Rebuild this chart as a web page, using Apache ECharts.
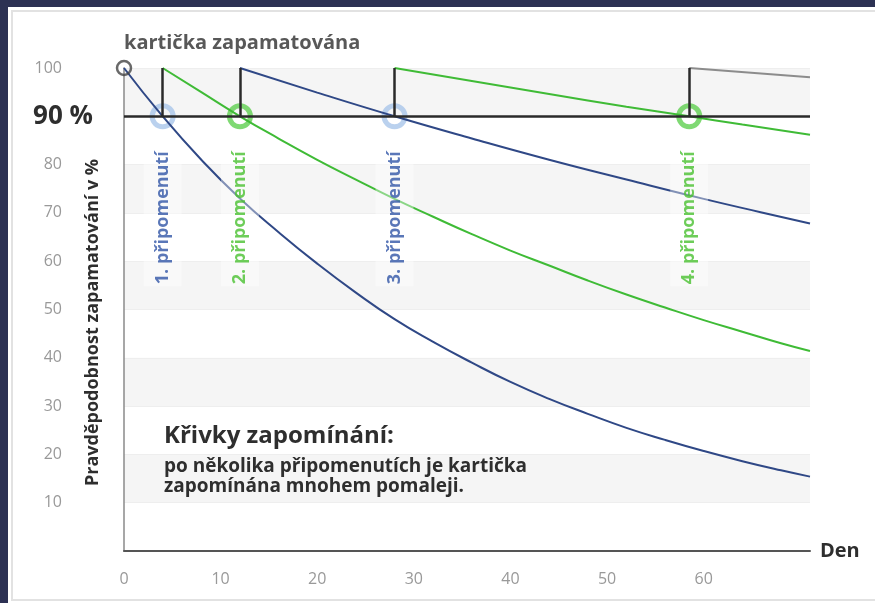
<!DOCTYPE html>
<html>
<head>
<meta charset="utf-8">
<script src="https://cdn.jsdelivr.net/npm/echarts@6/dist/echarts.min.js"></script>
<style>
  html, body { margin: 0; padding: 0; background: #ffffff; }
  #chart { width: 875px; height: 603px; }
</style>
</head>
<body>
<div id="chart"></div>
<script>
// values: [den, %]
const curve1 = [[0, 100], [4, 90], [8, 81], [12, 73], [16, 66], [20, 59.5], [24, 53.5], [28, 48], [32, 43.3], [36, 39], [40, 35], [44, 31.5], [48, 28.4], [52, 25.5], [56, 23], [60, 20.7], [64, 18.6], [68, 16.7], [71, 15.4]];
const curve2 = [[4, 100], [8, 95], [12, 90], [16, 85.4], [20, 81], [24, 76.9], [28, 72.9], [32, 69.2], [36, 65.6], [40, 62.2], [44, 59.1], [48, 56], [52, 53.1], [56, 50.4], [60, 47.8], [64, 45.4], [68, 43], [71, 41.4]];
const curve3 = [[12, 100], [20, 94.9], [28, 90], [36, 85.4], [44, 81], [52, 76.9], [60, 72.9], [66, 70.1], [71, 67.8]];
const curve4 = [[28, 100], [36, 97.3], [44, 94.6], [52, 92], [58.5, 90], [64, 88.3], [71, 86.2]];
const curve5 = [[58.5, 100], [71, 98.1]];

const startDay = 0;
const reminderDays = [4, 12, 28, 58.5];
const reminderNames = ['1. připomenutí', '2. připomenutí', '3. připomenutí', '4. připomenutí'];
const threshold = 90;
const full = 100;
const labelLevel = 69;
const xTicks = [0, 10, 20, 30, 40, 50, 60];
const yTicks = [10, 20, 30, 40, 50, 60, 70, 80, 100];

const blue = '#2f4886';
const green = '#3fbb36';
const ringColors = ['#a9c5ea', '#5fd050', '#a9c5ea', '#5fd050'];
const labelColors = ['#3155a6', '#48c02f', '#3155a6', '#48c02f'];
const font = '"Open Sans", "DejaVu Sans", sans-serif';

const chart = echarts.init(document.getElementById('chart'));

function curve(data, color) {
  return {
    type: 'line',
    data: data,
    smooth: true,
    symbol: 'none',
    z: 4,
    lineStyle: { color: color, width: 2 }
  };
}

chart.setOption({
  backgroundColor: '#ffffff',
  animation: false,
  textStyle: { fontFamily: font },
  grid: { left: 124, right: 65, top: 68, bottom: 52 },
  graphic: [
    { type: 'rect', shape: { x: 0, y: 0, width: 875, height: 7 }, style: { fill: '#2c3153' }, z: 100 },
    { type: 'rect', shape: { x: 0, y: 0, width: 8, height: 603 }, style: { fill: '#2c3153' }, z: 100 },
    { type: 'rect', shape: { x: 12, y: 11, width: 880, height: 589 }, style: { fill: 'none', stroke: '#e2e2e2', lineWidth: 2 }, z: 99 },
    {
      type: 'text', left: 164, top: 424, z: 50,
      style: { text: 'Křivky zapomínání:', font: 'bold 24px ' + font, fill: '#2e2e2e' }
    },
    {
      type: 'text', left: 164, top: 457, z: 50,
      style: {
        text: 'po několika připomenutích je kartička\nzapomínána mnohem pomaleji.',
        font: 'bold 19px ' + font, fill: '#2e2e2e', lineHeight: 20
      }
    }
  ],
  xAxis: {
    type: 'value',
    min: 0,
    max: 71,
    interval: 10,
    name: 'Den',
    nameLocation: 'end',
    nameGap: 10,
    nameTextStyle: { fontSize: 20, fontWeight: 'bold', color: '#2e2e2e', verticalAlign: 'middle' },
    axisLine: { lineStyle: { color: '#555555', width: 2 } },
    axisTick: { show: false },
    splitLine: { show: false },
    axisLabel: {
      color: '#999999', fontSize: 16, margin: 20,
      formatter: v => (xTicks.includes(v) ? String(v) : '')
    }
  },
  yAxis: {
    type: 'value',
    min: 0,
    max: 100,
    interval: 10,
    name: 'Pravděpodobnost zapamatování v %',
    nameLocation: 'middle',
    nameGap: 22,
    nameMoveOverlap: false,
    nameTextStyle: { fontSize: 18, fontWeight: 'bold', color: '#2e2e2e', padding: [0, 26, 0, 0] },
    axisLine: { show: true, lineStyle: { color: '#8a8a8a', width: 1.5 } },
    axisTick: { show: false },
    splitLine: { show: true, lineStyle: { color: '#eeeeee', width: 1 } },
    splitArea: { show: true, areaStyle: { color: ['rgba(255,255,255,0)', '#f5f5f5'] } },
    axisLabel: {
      color: '#999999', fontSize: 16, margin: 62,
      formatter: v => (yTicks.includes(v) ? String(v) : '')
    }
  },
  series: [
    curve(curve1, blue),
    curve(curve2, green),
    curve(curve3, blue),
    curve(curve4, green),
    curve(curve5, '#8c8c8c'),
    {
      // 90 % line and the jumps back to 100 at every reminder
      type: 'line',
      data: [],
      z: 6,
      markLine: {
        silent: true,
        symbol: 'none',
        lineStyle: { color: '#2a2a2a', width: 2.5, type: 'solid' },
        label: { show: false },
        data: [
          {
            yAxis: threshold,
            label: {
              show: true, position: 'start', distance: 31, formatter: '90 %',
              fontSize: 26, fontWeight: 'bold', color: '#2e2e2e', fontFamily: font
            }
          }
        ].concat(reminderDays.map(d => [{ coord: [d, threshold] }, { coord: [d, full] }]))
      }
    },
    {
      // rings on the 90 % line
      type: 'scatter',
      z: 3,
      symbol: 'circle',
      symbolSize: 21,
      data: reminderDays.map((d, i) => ({
        value: [d, threshold],
        itemStyle: { color: 'rgba(0,0,0,0)', borderColor: ringColors[i], borderWidth: 5 }
      }))
    },
    {
      // start point
      type: 'scatter',
      z: 7,
      symbol: 'circle',
      symbolSize: 14,
      itemStyle: { color: 'rgba(0,0,0,0)', borderColor: '#444444', borderWidth: 2.5 },
      label: {
        show: true, position: 'top', align: 'left', distance: 6, offset: [0, 0],
        formatter: 'kartička zapamatována',
        fontSize: 20, fontWeight: 'bold', color: '#2e2e2e', fontFamily: font
      },
      data: [[startDay, full]]
    },
    {
      // reminder labels
      type: 'scatter',
      z: 8,
      symbolSize: 1,
      itemStyle: { color: 'rgba(0,0,0,0)' },
      data: reminderDays.map((d, i) => ({
        value: [d, labelLevel],
        label: {
          show: true, position: 'inside', rotate: 90,
          formatter: reminderNames[i],
          fontSize: 18, fontWeight: 'bold', color: labelColors[i], fontFamily: font,
          backgroundColor: 'rgba(255,255,255,0.5)', padding: [10, 2]
        }
      }))
    }
  ]
});
</script>
</body>
</html>
